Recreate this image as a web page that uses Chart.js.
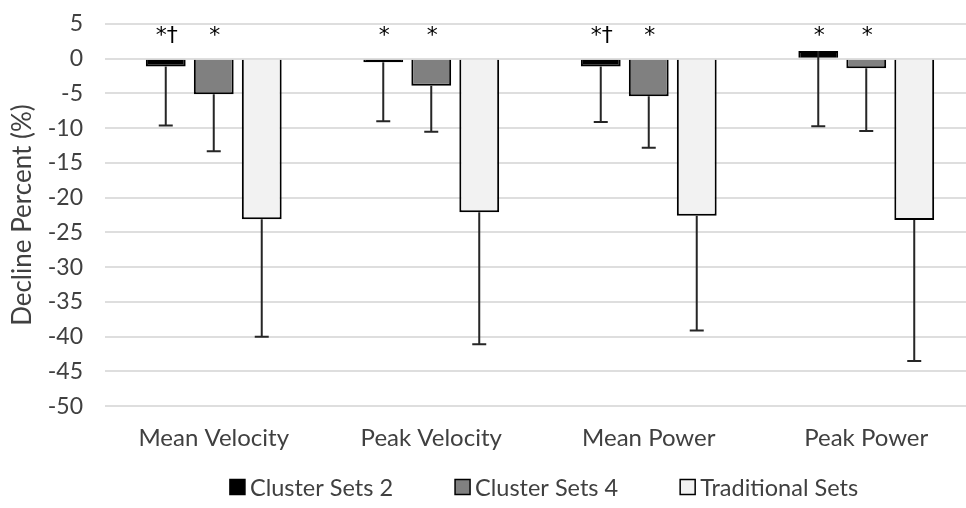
<!DOCTYPE html>
<html>
<head>
<meta charset="utf-8">
<script src="https://cdn.jsdelivr.net/npm/chart.js@4"></script>
<style>
  html, body { margin: 0; padding: 0; background: #fff; overflow: hidden; }
</style>
</head>
<body>
<canvas id="decline-chart" width="976" height="508"></canvas>
<script>
var categories = ['Mean Velocity', 'Peak Velocity', 'Mean Power', 'Peak Power'];
var seriesNames = ['Cluster Sets 2', 'Cluster Sets 4', 'Traditional Sets'];

var cluster2 = [-1.1, -0.5, -1.1, 1.1];
var cluster4 = [-5.1, -3.9, -5.4, -1.35];
var traditional = [-23.1, -22.1, -22.6, -23.2];

// one-sided SD (drawn downward)
var cluster2SD = [8.5, 8.5, 8.0, 10.8];
var cluster4SD = [8.2, 6.6, 7.4, 9.05];
var traditionalSD = [16.9, 19.0, 16.5, 20.3];

var cluster2Marks = ['*†', '*', '*†', '*'];
var cluster4Marks = ['*', '*', '*', '*'];
var traditionalMarks = ['', '', '', ''];

var yMin = -50, yMax = 5, yStep = 5;

var FONT = 'Lato, "DejaVu Sans", sans-serif';
var TEXT = '#404040';

var errorBars = {
	id: 'errorBars',
	afterDatasetsDraw(chart) {
		var ctx = chart.ctx;
		var y = chart.scales.y;
		ctx.save();
		ctx.strokeStyle = '#262626';
		ctx.lineWidth = 2;
		chart.data.datasets.forEach((ds, i) => {
			var meta = chart.getDatasetMeta(i);
			meta.data.forEach((bar, j) => {
				var low = y.getPixelForValue(ds.data[j] - ds.sd[j]);
				ctx.beginPath();
				ctx.moveTo(bar.x, bar.y);
				ctx.lineTo(bar.x, low);
				ctx.moveTo(bar.x - 7, low);
				ctx.lineTo(bar.x + 7, low);
				ctx.stroke();
			});
		});
		// significance marks
		ctx.fillStyle = '#000';
		ctx.font = '22px "DejaVu Sans", sans-serif';
		ctx.textAlign = 'center';
		ctx.textBaseline = 'alphabetic';
		chart.data.datasets.forEach((ds, i) => {
			var meta = chart.getDatasetMeta(i);
			meta.data.forEach((bar, j) => {
				if (ds.marks[j]) ctx.fillText(ds.marks[j], bar.x + 1, y.getPixelForValue(2.4));
			});
		});
		ctx.restore();
	}
};

var bottomLegend = {
	id: 'bottomLegend',
	afterDraw(chart) {
		var ctx = chart.ctx;
		var area = chart.chartArea;
		ctx.save();
		ctx.font = '23.5px ' + FONT;
		ctx.textBaseline = 'middle';
		ctx.textAlign = 'left';
		var box = 15, gap = 5, itemGap = 62;
		var widths = chart.data.datasets.map(ds => box + gap + ctx.measureText(ds.label).width);
		var total = widths.reduce((a, b) => a + b, 0) + itemGap * (widths.length - 1);
		var x = (area.left + area.right) / 2 - total / 2 + 4;
		var yc = 487;
		chart.data.datasets.forEach((ds, i) => {
			ctx.fillStyle = ds.backgroundColor;
			ctx.fillRect(x, yc - box / 2, box, box);
			ctx.strokeStyle = '#000';
			ctx.lineWidth = 1.5;
			ctx.strokeRect(x, yc - box / 2, box, box);
			ctx.fillStyle = TEXT;
			ctx.fillText(ds.label, x + box + gap, yc + 1);
			x += widths[i] + itemGap;
		});
		ctx.restore();
	}
};

new Chart(document.getElementById('decline-chart'), {
	type: 'bar',
	data: {
		labels: categories,
		datasets: [{
			label: seriesNames[0],
			data: cluster2,
			sd: cluster2SD,
			marks: cluster2Marks,
			backgroundColor: '#000000',
		}, {
			label: seriesNames[1],
			data: cluster4,
			sd: cluster4SD,
			marks: cluster4Marks,
			backgroundColor: '#808080',
		}, {
			label: seriesNames[2],
			data: traditional,
			sd: traditionalSD,
			marks: traditionalMarks,
			backgroundColor: '#f2f2f2',
		}],
	},
	options: {
		responsive: false,
		animation: false,
		events: [],
		layout: {
			padding: { top: 24, right: 1, bottom: 37, left: 0 }
		},
		datasets: {
			bar: {
				borderColor: '#000',
				borderWidth: 2,
				categoryPercentage: 0.662,
				barPercentage: 0.83,
			}
		},
		scales: {
			x: {
				grid: { display: false, drawTicks: false },
				border: { display: false },
				ticks: {
					color: TEXT,
					padding: 18,
					font: { family: FONT, size: 24 },
				},
			},
			y: {
				min: yMin,
				max: yMax,
				afterFit(scale) {
					scale.width = 105;
					scale.paddingTop = 0;
					scale.paddingBottom = 0;
				},
				grid: { color: '#dedede', lineWidth: 2, drawTicks: false },
				border: { display: false },
				ticks: {
					stepSize: yStep,
					color: TEXT,
					padding: 22,
					font: { family: FONT, size: 23 },
				},
				title: {
					display: true,
					text: 'Decline Percent (%)',
					color: TEXT,
					padding: { top: 7, bottom: 0 },
					font: { family: FONT, size: 26 },
				},
			},
		},
		plugins: {
			legend: { display: false },
			tooltip: { enabled: false },
		}
	},
	plugins: [errorBars, bottomLegend]
});
</script>
</body>
</html>
